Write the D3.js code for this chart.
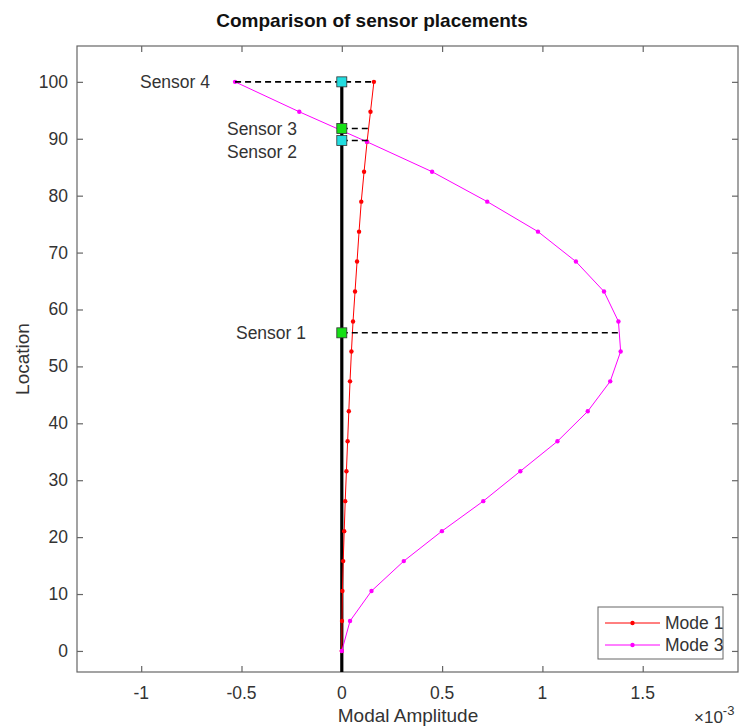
<!DOCTYPE html>
<html><head><meta charset="utf-8">
<script src="https://cdn.jsdelivr.net/npm/d3@7"></script>
<style>body{margin:0;background:#fff;} svg{display:block;font-family:"Liberation Sans",Arial,sans-serif;}</style>
</head><body>
<svg id="c" width="741" height="728"></svg>
<script>
// ---- data ----
const locations = [0, 5.26, 10.53, 15.79, 21.05, 26.32, 31.58, 36.84, 42.11, 47.37, 52.63, 57.89, 63.16, 68.42, 73.68, 78.95, 84.21, 89.47, 94.74, 100];
const mode1 = [0, 0.001, 0.003, 0.007, 0.012, 0.017, 0.023, 0.029, 0.035, 0.041, 0.048, 0.056, 0.066, 0.076, 0.086, 0.097, 0.111, 0.126, 0.143, 0.16];
const mode3 = [0, 0.041, 0.148, 0.309, 0.499, 0.705, 0.89, 1.075, 1.226, 1.338, 1.39, 1.379, 1.307, 1.167, 0.978, 0.725, 0.45, 0.125, -0.212, -0.532];
const sensorNames = ["Sensor 1", "Sensor 2", "Sensor 3", "Sensor 4"];
const sensorLoc = [55.9, 89.7, 91.8, 100];
const sensorColor = ["#16e016", "#22dde0", "#16e016", "#22dde0"];
const dashFrom = [0, 0, 0, -0.532];
const dashTo = [1.385, 0.13, 0.14, 0.16];
const xTicks = [-1, -0.5, 0, 0.5, 1, 1.5];
const yTicks = [0, 10, 20, 30, 40, 50, 60, 70, 80, 90, 100];
const legendLabels = ["Mode 1", "Mode 3"];
const legendColors = ["#ff0000", "#ff00ff"];

// ---- layout ----
const svg = d3.select("#c");
const L = 77, R = 738, T = 46, B = 672;
const x = d3.scaleLinear().domain([-1.32, 1.975]).range([L, R]);
const y = d3.scaleLinear().domain([-3.7, 106.3]).range([B, T]);
const axisCol = "#666";
const txtCol = "#333";
const fs = 17.5;

// title
svg.append("text").attr("x", 372).attr("y", 27).attr("text-anchor", "middle")
  .attr("font-size", 19).attr("font-weight", "bold").attr("fill", "#111")
  .text("Comparison of sensor placements");

// box
svg.append("rect").attr("x", L).attr("y", T).attr("width", R - L).attr("height", B - T)
  .attr("fill", "none").attr("stroke", axisCol).attr("stroke-width", 1.2);

// axes (ticks inward)
const gxB = svg.append("g").attr("transform", `translate(0,${B})`)
  .call(d3.axisTop(x).tickValues(xTicks).tickSize(6).tickFormat(""));
const gxT = svg.append("g").attr("transform", `translate(0,${T})`)
  .call(d3.axisBottom(x).tickValues(xTicks).tickSize(6).tickFormat(""));
const gyL = svg.append("g").attr("transform", `translate(${L},0)`)
  .call(d3.axisRight(y).tickValues(yTicks).tickSize(6).tickFormat(""));
const gyR = svg.append("g").attr("transform", `translate(${R},0)`)
  .call(d3.axisLeft(y).tickValues(yTicks).tickSize(6).tickFormat(""));
[gxB, gxT, gyL, gyR].forEach(g => {
  g.select(".domain").remove();
  g.selectAll("line").attr("stroke", axisCol).attr("stroke-width", 1.2);
});
// tick labels
svg.append("g").selectAll("text").data(xTicks).join("text")
  .attr("x", d => x(d)).attr("y", 699).attr("text-anchor", "middle")
  .attr("font-size", fs).attr("fill", txtCol).text(d => d);
svg.append("g").selectAll("text").data(yTicks).join("text")
  .attr("x", 68).attr("y", d => y(d) + 6).attr("text-anchor", "end")
  .attr("font-size", fs).attr("fill", txtCol).text(d => d);

// axis labels
svg.append("text").attr("x", 408).attr("y", 722).attr("text-anchor", "middle")
  .attr("font-size", 19).attr("fill", txtCol).text("Modal Amplitude");
svg.append("text").attr("transform", `translate(29,${(T + B) / 2}) rotate(-90)`)
  .attr("text-anchor", "middle").attr("font-size", 19).attr("fill", txtCol).text("Location");
const ex = svg.append("text").attr("x", 694).attr("y", 723).attr("font-size", 17).attr("fill", txtCol);
ex.append("tspan").text("×10");
ex.append("tspan").attr("dy", -8).attr("font-size", 13).text("-3");

// clip
svg.append("clipPath").attr("id", "clip").append("rect")
  .attr("x", L).attr("y", T).attr("width", R - L).attr("height", B - T);
const plot = svg.append("g").attr("clip-path", "url(#clip)");

// black structure line
plot.append("line").attr("x1", x(0)).attr("x2", x(0))
  .attr("y1", y(y.domain()[0])).attr("y2", y(d3.max(sensorLoc)))
  .attr("stroke", "#000").attr("stroke-width", 3.2);

// modes
const series = [mode1, mode3];
series.forEach((vals, i) => {
  const pts = locations.map((l, j) => [vals[j], l]);
  plot.append("path").datum(pts)
    .attr("d", d3.line().x(d => x(d[0])).y(d => y(d[1])))
    .attr("fill", "none").attr("stroke", legendColors[i]).attr("stroke-width", 1);
  plot.append("g").selectAll("circle").data(pts).join("circle")
    .attr("cx", d => x(d[0])).attr("cy", d => y(d[1])).attr("r", 2.2)
    .attr("fill", legendColors[i]);
});

// dashed lines
plot.append("g").selectAll("line").data(sensorLoc).join("line")
  .attr("x1", (d, i) => x(dashFrom[i])).attr("x2", (d, i) => x(dashTo[i]))
  .attr("y1", d => y(d)).attr("y2", d => y(d))
  .attr("stroke", "#000").attr("stroke-width", 1.6).attr("stroke-dasharray", "6,4");

// sensor squares
const sq = 10;
plot.append("g").selectAll("rect").data(sensorLoc).join("rect")
  .attr("x", x(0) - sq / 2).attr("y", d => y(d) - sq / 2)
  .attr("width", sq).attr("height", sq)
  .attr("fill", (d, i) => sensorColor[i]).attr("stroke", "#333").attr("stroke-width", 0.8);

// sensor labels
const labelX = [306, 297, 297, 210];
const labelDy = [0, 12, 0, 0];
svg.append("g").selectAll("text").data(sensorLoc).join("text")
  .attr("x", (d, i) => labelX[i]).attr("y", (d, i) => y(d) + 6 + labelDy[i])
  .attr("text-anchor", "end").attr("font-size", fs).attr("fill", txtCol)
  .text((d, i) => sensorNames[i]);

// legend
const lg = svg.append("g");
lg.append("rect").attr("x", 598).attr("y", 607).attr("width", 125).attr("height", 52)
  .attr("fill", "#fff").attr("stroke", axisCol).attr("stroke-width", 1);
legendLabels.forEach((lab, i) => {
  const yy = 623 + i * 22;
  lg.append("line").attr("x1", 605).attr("x2", 660).attr("y1", yy).attr("y2", yy)
    .attr("stroke", legendColors[i]).attr("stroke-width", 1);
  lg.append("circle").attr("cx", 632.5).attr("cy", yy).attr("r", 2.2).attr("fill", legendColors[i]);
  lg.append("text").attr("x", 665).attr("y", yy + 6).attr("font-size", fs).attr("fill", txtCol).text(lab);
});
</script>
</body></html>
